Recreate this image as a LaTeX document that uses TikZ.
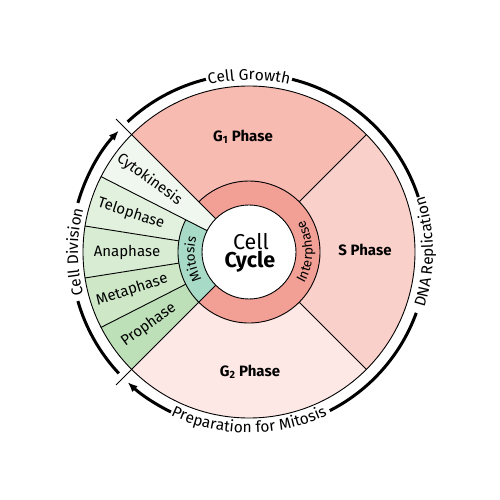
\documentclass[tikz,border=0pt]{standalone}
\usepackage{fontspec}
\setmainfont{Fira Sans}
\usetikzlibrary{decorations.text,arrows.meta}
\definecolor{gonecol}{HTML}{F7BBB2}
\definecolor{sphcol}{HTML}{FAD0CA}
\definecolor{gtwocol}{HTML}{FDE8E5}
\definecolor{ringcol}{HTML}{F2A096}
\definecolor{cytocol}{HTML}{F0F7EE}
\definecolor{telocol}{HTML}{E2F1DE}
\definecolor{anacol}{HTML}{D8ECD3}
\definecolor{metacol}{HTML}{CDE7C7}
\definecolor{procol}{HTML}{BEE0B8}
\definecolor{mitocol}{HTML}{A8DAC8}
\newcommand{\outerfont}{\fontsize{15.5}{17}\selectfont}
\newcommand{\ringfont}{\fontsize{13.5}{15}\selectfont}
\tikzset{
  divider/.style={draw=black, line width=0.9pt},
  cyclearc/.style={draw=black, line width=3pt},
  phaselabel/.style={font=\fontsize{15}{17}\selectfont, inner sep=0pt},
  sublabel/.style={font=\fontsize{15}{17}\selectfont\bfseries, inner sep=0pt},
  arrowtip/.style={-{Latex[length=10pt,width=8pt]}},
}
\begin{document}
\begin{tikzpicture}[x=1pt,y=1pt]
\useasboundingbox[fill=white] (-249,-248) rectangle (251,252);
% sectors
\fill[gonecol] (0,0) -- (45:166) arc[start angle=45,end angle=135,radius=166] -- cycle;
\fill[sphcol] (0,0) -- (-45:166) arc[start angle=-45,end angle=45,radius=166] -- cycle;
\fill[gtwocol] (0,0) -- (225:166) arc[start angle=225,end angle=315,radius=166] -- cycle;
\fill[cytocol] (0,0) -- (135:166) arc[start angle=135,end angle=153,radius=166] -- cycle;
\fill[telocol] (0,0) -- (153:166) arc[start angle=153,end angle=171,radius=166] -- cycle;
\fill[anacol] (0,0) -- (171:166) arc[start angle=171,end angle=189,radius=166] -- cycle;
\fill[metacol] (0,0) -- (189:166) arc[start angle=189,end angle=207,radius=166] -- cycle;
\fill[procol] (0,0) -- (207:166) arc[start angle=207,end angle=225,radius=166] -- cycle;
% rings
\fill[ringcol] (-135:71) arc[start angle=-135,end angle=135,radius=71] -- (135:47) arc[start angle=135,end angle=-135,radius=47] -- cycle;
\fill[mitocol] (153:71) arc[start angle=153,end angle=225,radius=71] -- (225:47) arc[start angle=225,end angle=153,radius=47] -- cycle;
\fill[white] (0,0) circle[radius=47];
% lines
\draw[divider] (0,0) circle[radius=166];
\draw[divider] (0,0) circle[radius=47];
\draw[divider] (153:71) arc[start angle=153,end angle=495,radius=71];
\draw[divider] (135:47) -- (135:188);
\draw[divider] (225:47) -- (225:188);
\draw[divider] (153:47) -- (153:166);
\draw[divider] (171:71) -- (171:166);
\draw[divider] (189:71) -- (189:166);
\draw[divider] (207:71) -- (207:166);
\draw[divider] (45:71) -- (45:166);
\draw[divider] (-45:71) -- (-45:166);
% centre
\node[font=\fontsize{21.5}{24}\selectfont, inner sep=0pt] (cell) at (2,10) {Cell};
\node[font=\fontsize{21.5}{24}\selectfont\bfseries, inner sep=0pt] (cycle) at (1,-10) {Cycle};
% interphase labels
\node[sublabel] (g1) at (-6,115) {G\textsubscript{1} Phase};
\node[sublabel] (sp) at (116,2) {S Phase};
\node[sublabel] (g2) at (1,-120) {G\textsubscript{2} Phase};
% mitosis labels
\node[phaselabel, rotate=-36] (cyto) at (144:123) {Cytokinesis};
\node[phaselabel, rotate=-18] (telo) at (162:124) {Telophase};
\node[phaselabel] (ana) at (180:122) {Anaphase};
\node[phaselabel, rotate=18] (meta) at (198:123) {Metaphase};
\node[phaselabel, rotate=36] (pro) at (216:124) {Prophase};
% ring labels
\path[decorate, decoration={text along path, text align=center, text={|\ringfont|Mitosis}}]
  (225:54.5) arc[start angle=225,end angle=149,radius=54.5];
\path[decorate, decoration={text along path, text align=center, text={|\ringfont|Interphase}}]
  (-45:63.5) arc[start angle=-45,end angle=45,radius=63.5];
% outer labels
\path[decorate, decoration={text along path, text align=center, text={|\outerfont|Cell Growth}}]
  (135:172) arc[start angle=135,end angle=45,radius=172];
\path[decorate, decoration={text along path, text align=center, text={|\outerfont|DNA Replication}}]
  (-45:184) arc[start angle=-45,end angle=45,radius=184];
\path[decorate, decoration={text along path, text align=center, text={|\outerfont|Preparation for Mitosis}}]
  (225:181) arc[start angle=225,end angle=315,radius=181];
\path[decorate, decoration={text along path, text align=center, text={|\outerfont|Cell Division}}]
  (225:171) arc[start angle=225,end angle=135,radius=171];
% cycle arcs
\coordinate (a1s) at (133:178);
\draw[cyclearc] (a1s) arc[start angle=133,end angle=104,radius=178];
\coordinate (a2s) at (76:178);
\draw[cyclearc] (a2s) arc[start angle=76,end angle=18,radius=178];
\coordinate (a3s) at (-20:178);
\draw[cyclearc] (a3s) arc[start angle=-20,end angle=-63,radius=178];
\coordinate (a4s) at (-116:178);
\draw[cyclearc, arrowtip] (a4s) arc[start angle=-116,end angle=-133,radius=178];
\coordinate (a5s) at (223:178);
\draw[cyclearc] (a5s) arc[start angle=223,end angle=196,radius=178];
\coordinate (a6s) at (164:178);
\draw[cyclearc, arrowtip] (a6s) arc[start angle=164,end angle=137,radius=178];
\end{tikzpicture}
\end{document}
